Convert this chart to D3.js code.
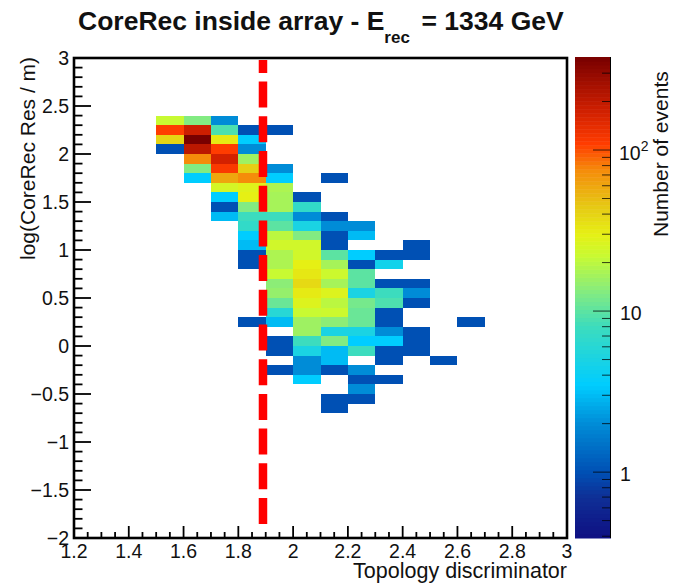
<!DOCTYPE html>
<html>
<head>
    <meta charset="utf-8">
    <script type="text/javascript" src="https://cdn.jsdelivr.net/npm/d3@7"></script>
    <style>
        html, body { margin: 0; padding: 0; background: #fff; }
        text { font-family: "Liberation Sans", Arial, sans-serif; fill: #111; }
    </style>
</head>
<body>
    <div id="viz"></div>
    <script type="text/javascript">

    // bin low edges
    var xBins = [1.5, 1.6, 1.7, 1.8, 1.9, 2.0, 2.1, 2.2, 2.3, 2.4, 2.5, 2.6];
    var yBins = [2.3, 2.2, 2.1, 2.0, 1.9, 1.8, 1.7, 1.6, 1.5, 1.4, 1.3, 1.2, 1.1, 1.0, 0.9, 0.8, 0.7, 0.6, 0.5, 0.4,
                 0.3, 0.2, 0.1, 0.0, -0.1, -0.2, -0.3, -0.4, -0.5, -0.6, -0.7];

    // one row per yBins entry, 0 = empty bin
    var counts = [
        [ 22,  13,   2,   0,   0,   0,   0,   0,   0,   0,   0,   0],
        [110, 180,   9,   1,   1,   0,   0,   0,   0,   0,   0,   0],
        [ 40, 378,  32, 3.5,   0,   0,   0,   0,   0,   0,   0,   0],
        [  1, 210, 110,   2,   0,   0,   0,   0,   0,   0,   0,   0],
        [  0,  75, 170,  16,   0,   0,   0,   0,   0,   0,   0,   0],
        [  0,  13, 115,  42,   2,   0,   0,   0,   0,   0,   0,   0],
        [  0, 3.5,  60,  75, 3.5,   0,   1,   0,   0,   0,   0,   0],
        [  0,   0,  25,  28,  18,   0,   0,   0,   0,   0,   0,   0],
        [  0,   0, 3.5,  30,  17,   1,   0,   0,   0,   0,   0,   0],
        [  0,   0,   1,  13,  17,   7,   0,   0,   0,   0,   0,   0],
        [  0,   0,   3,   8,   8,   2,   1,   0,   0,   0,   0,   0],
        [  0,   0,   0,   7,  10,   5,   2,   2,   0,   0,   0,   0],
        [  0,   0,   0, 3.5,  20,  13,   1,   3,   0,   0,   0,   0],
        [  0,   0,   0,   3,  24,  24,   1,   0,   0,   1,   0,   0],
        [  0,   0,   0,   1,  18,  24,  10, 3.5,   1,   1,   0,   0],
        [  0,   0,   0,   1,  18,  30,  17,   1, 4.5,   0,   0,   0],
        [  0,   0,   0,   0,  22,  33,  23,  10,   0,   0,   0,   0],
        [  0,   0,   0,   0,  14,  38,  17,  10,   1,   1,   0,   0],
        [  0,   0,   0,   0,  15,  32,  27,   5,   8,   2,   0,   0],
        [  0,   0,   0,   0,  11,  27,  20,  12,   9,   1,   0,   0],
        [  0,   0,   0,   0,   6,  22,  23,  11,   1,   0,   0,   0],
        [  0,   0,   0,   1,   3,  16,  14,  11,   1,   0,   0,   1],
        [  0,   0,   0,   0,   0,  16,   5,   5,   2,   1,   0,   0],
        [  0,   0,   0,   0,   1,   8,  13, 3.5, 3.5,   1,   0,   0],
        [  0,   0,   0,   0,   1,   5,   3,   8,   1,   1,   0,   0],
        [  0,   0,   0,   0,   0,   2,   3,   0,   1,   0,   1,   0],
        [  0,   0,   0,   0,   1,   2,   1,   2,   0,   0,   0,   0],
        [  0,   0,   0,   0,   0, 3.5,   0,   1,   1,   0,   0,   0],
        [  0,   0,   0,   0,   0,   0,   0,   2,   0,   0,   0,   0],
        [  0,   0,   0,   0,   0,   0,   1,   1,   0,   0,   0,   0],
        [  0,   0,   0,   0,   0,   0,   1,   0,   0,   0,   0,   0]
    ];

    var xTicks = [1.2, 1.4, 1.6, 1.8, 2, 2.2, 2.4, 2.6, 2.8, 3];
    var yTicks = [-2, -1.5, -1, -0.5, 0, 0.5, 1, 1.5, 2, 2.5, 3];
    var zMajor = [1, 10, 100];
    var zMinor = [0.4, 0.5, 0.6, 0.7, 0.8, 0.9, 2, 3, 4, 5, 6, 7, 8, 9, 20, 30, 40, 50, 60, 70, 80, 90, 200, 300];

    // colour stops
    var paletteCounts = [0.39, 0.7, 1, 2, 3.5, 8, 13, 22, 30, 45, 75, 110, 180, 378];
    var paletteColors = ["#0f0f82", "#0f2f96", "#0050b4", "#008cd7", "#00cdff", "#3cdcbe", "#82eb82", "#c8fa32",
                         "#e6f014", "#e6c814", "#f58c0a", "#ff3c00", "#cd1e00", "#780000"];

    var cutValue = 1.89;
    var binW = 0.1;
    var binH = 0.1;

    var width = 683, height = 584;
    var left = 74, right = 567, top_ = 58, bottom = 538;

    var svg = d3.select("#viz").append("svg")
        .attr("width", width)
        .attr("height", height)
        .style("display", "block");

    var x = d3.scaleLinear().domain([1.2, 3]).range([left, right]);
    var y = d3.scaleLinear().domain([-2, 3]).range([bottom, top_]);
    var z = d3.scaleLog().domain([0.39, 378]).range([538, 57]);
    var color = d3.scaleLog().domain(paletteCounts).range(paletteColors).clamp(true);

    function fmt(v) {
        // real minus sign like the original
        return String(v).replace("-", "\u2212");
    }

    // cells
    yBins.forEach(function (yLow, r) {
        xBins.forEach(function (xLow, c) {
            var n = counts[r][c];
            if (n === 0) return;
            svg.append("rect")
                .attr("x", x(xLow))
                .attr("y", y(yLow + binH))
                .attr("width", x(xLow + binW) - x(xLow))
                .attr("height", y(yLow) - y(yLow + binH))
                .attr("fill", color(n))
                .attr("shape-rendering", "crispEdges");
        });
    });

    // cut line, dashes start from the bottom end
    svg.append("line")
        .attr("x1", x(cutValue))
        .attr("x2", x(cutValue))
        .attr("y1", y(-1.854))
        .attr("y2", y(2.98))
        .attr("stroke", "#ff0000")
        .attr("stroke-width", 8.5)
        .attr("stroke-dasharray", "26,8.7");

    // axes
    var xMinor = d3.range(1.2, 3.0001, 0.05).filter(function (v) { return !xTicks.some(function (t) { return Math.abs(t - v) < 1e-6; }); });
    var yMinor = d3.range(-2, 3.0001, 0.1).filter(function (v) { return !yTicks.some(function (t) { return Math.abs(t - v) < 1e-6; }); });

    var g = svg.append("g");

    xTicks.forEach(function (t) {
        g.append("line").attr("x1", x(t)).attr("x2", x(t)).attr("y1", bottom).attr("y2", bottom - 12).attr("stroke", "#000").attr("stroke-width", 1.8);
        g.append("text").attr("x", x(t)).attr("y", 558).attr("text-anchor", "middle").attr("font-size", 19.5).text(fmt(t));
    });
    xMinor.forEach(function (t) {
        g.append("line").attr("x1", x(t)).attr("x2", x(t)).attr("y1", bottom).attr("y2", bottom - 6).attr("stroke", "#000").attr("stroke-width", 1.8);
    });
    yTicks.forEach(function (t) {
        g.append("line").attr("x1", left).attr("x2", left + 17).attr("y1", y(t)).attr("y2", y(t)).attr("stroke", "#000").attr("stroke-width", 1.8);
        g.append("text").attr("x", 69).attr("y", y(t) + 7).attr("text-anchor", "end").attr("font-size", 19.5).text(fmt(t));
    });
    yMinor.forEach(function (t) {
        g.append("line").attr("x1", left).attr("x2", left + 8.5).attr("y1", y(t)).attr("y2", y(t)).attr("stroke", "#000").attr("stroke-width", 1.8);
    });

    // frame
    g.append("rect")
        .attr("x", left).attr("y", top_)
        .attr("width", right - left).attr("height", bottom - top_)
        .attr("fill", "none").attr("stroke", "#000").attr("stroke-width", 2.6);

    // palette bar
    var bands = d3.range(0, 120);
    var logMin = Math.log10(0.39), logMax = Math.log10(378);
    bands.forEach(function (i) {
        var lo = Math.pow(10, logMin + (logMax - logMin) * i / bands.length);
        var hi = Math.pow(10, logMin + (logMax - logMin) * (i + 1) / bands.length);
        svg.append("rect")
            .attr("x", 575)
            .attr("width", 36)
            .attr("y", z(hi))
            .attr("height", z(lo) - z(hi) + 0.5)
            .attr("fill", color(Math.sqrt(lo * hi)));
    });
    svg.append("line").attr("x1", 610.5).attr("x2", 610.5).attr("y1", 57).attr("y2", 538).attr("stroke", "#000").attr("stroke-width", 1);

    zMinor.forEach(function (v) {
        svg.append("line").attr("x1", 610.5).attr("x2", 602).attr("y1", z(v)).attr("y2", z(v)).attr("stroke", "#000").attr("stroke-opacity", 0.75).attr("stroke-width", 1);
    });
    zMajor.forEach(function (v) {
        svg.append("line").attr("x1", 610.5).attr("x2", 593).attr("y1", z(v)).attr("y2", z(v)).attr("stroke", "#000").attr("stroke-opacity", 0.75).attr("stroke-width", 1);
    });

    svg.append("text").attr("x", 620).attr("y", z(1) + 9).attr("font-size", 19.5).text("1");
    svg.append("text").attr("x", 620).attr("y", z(10) + 9).attr("font-size", 19.5).text("10");
    var t100 = svg.append("text").attr("x", 619).attr("y", z(100) + 10).attr("font-size", 19.5);
    t100.append("tspan").text("10");
    t100.append("tspan").attr("dy", -9).attr("font-size", 14).text("2");

    // titles
    var title = svg.append("text").attr("x", 78).attr("y", 29.5).attr("font-size", 26.5).attr("font-weight", "bold");
    title.append("tspan").text("CoreRec inside array - E");
    title.append("tspan").attr("dy", 13).attr("font-size", 17).text("rec");
    title.append("tspan").attr("dy", -13).attr("x", 421.5).text("= 1334 GeV");

    svg.append("text")
        .attr("x", 567).attr("y", 578)
        .attr("text-anchor", "end").attr("font-size", 21.5)
        .text("Topology discriminator");

    svg.append("text")
        .attr("transform", "translate(35,260) rotate(-90)")
        .attr("font-size", 21)
        .text("log(CoreRec Res / m)");

    svg.append("text")
        .attr("transform", "translate(668,237) rotate(-90)")
        .attr("font-size", 21)
        .text("Number of events");

    </script>
</body>
</html>
